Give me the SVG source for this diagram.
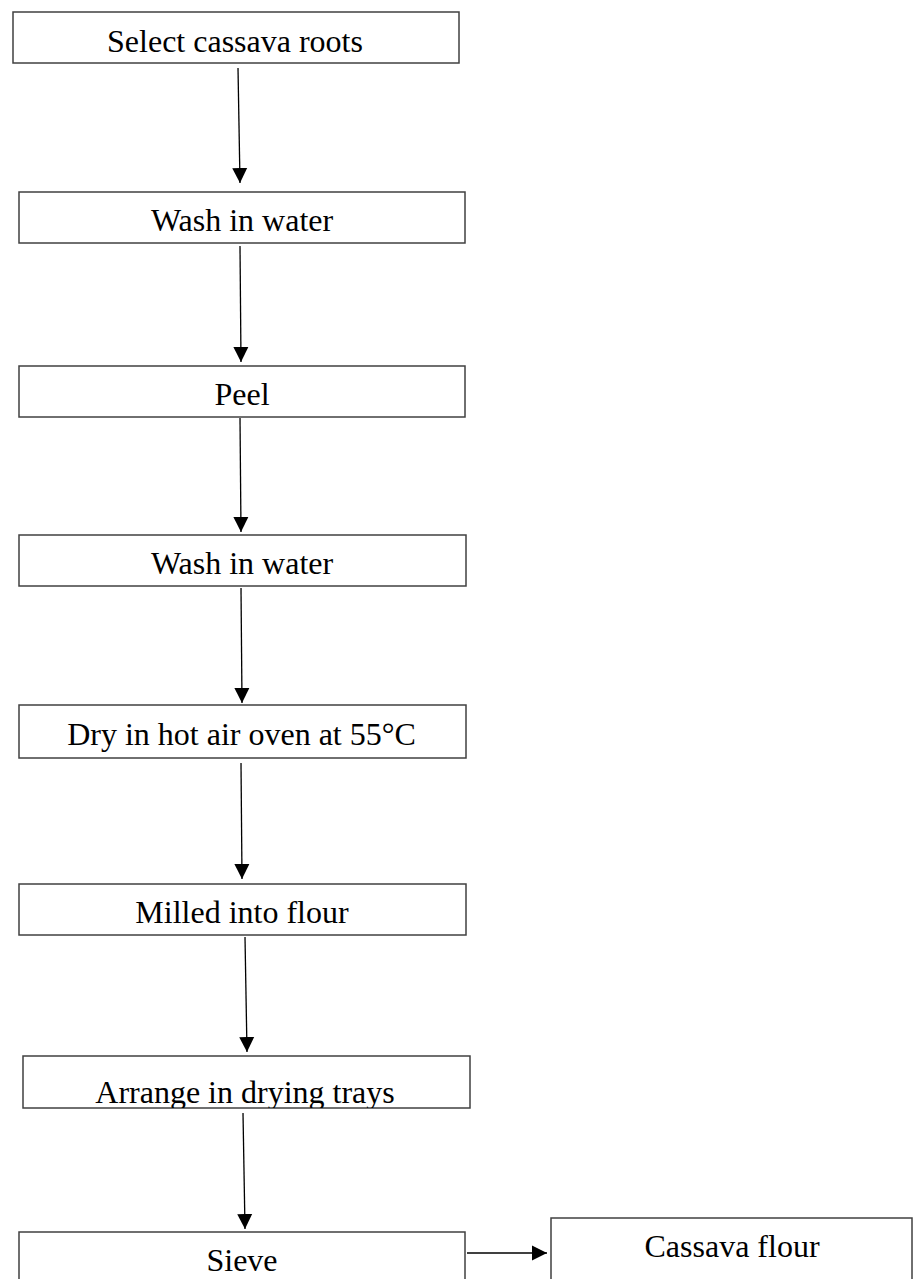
<svg xmlns="http://www.w3.org/2000/svg" width="914" height="1279" viewBox="0 0 914 1279">
<style>
.box{fill:#fff;stroke:#404040;stroke-width:1.5}
.lbl{font-family:"Liberation Serif","Times New Roman",serif;font-size:32px;fill:#000;text-anchor:middle}
.conn{stroke:#000;stroke-width:1.3;fill:none;marker-end:url(#ah)}
</style>
<defs>
<marker id="ah" markerUnits="userSpaceOnUse" markerWidth="16" markerHeight="16" viewBox="0 0 16 16" refX="15" refY="8" orient="auto">
<path d="M0,0.5 L15,8 L0,15.5 Z" fill="#000"/>
</marker>
<clipPath id="c1"><rect x="13" y="12" width="446" height="51"/></clipPath>
<clipPath id="c2"><rect x="19" y="192" width="446" height="51"/></clipPath>
<clipPath id="c3"><rect x="19" y="366" width="446" height="51"/></clipPath>
<clipPath id="c4"><rect x="19" y="535" width="447" height="51"/></clipPath>
<clipPath id="c5"><rect x="19" y="705" width="447" height="53"/></clipPath>
<clipPath id="c6"><rect x="19" y="884" width="447" height="51"/></clipPath>
<clipPath id="c7"><rect x="23" y="1056" width="447" height="52"/></clipPath>
<clipPath id="c8"><rect x="19" y="1232" width="446" height="60"/></clipPath>
<clipPath id="c9"><rect x="551" y="1218" width="361" height="70"/></clipPath>
</defs>
<g id="connectors">
<line class="conn" x1="238" y1="68" x2="240" y2="183"/>
<line class="conn" x1="240" y1="246" x2="241" y2="362"/>
<line class="conn" x1="240" y1="418" x2="241" y2="532"/>
<line class="conn" x1="241" y1="588" x2="242" y2="703"/>
<line class="conn" x1="241" y1="763" x2="242" y2="879"/>
<line class="conn" x1="245" y1="937" x2="247" y2="1052"/>
<line class="conn" x1="243" y1="1113" x2="245" y2="1229"/>
<line class="conn" x1="467" y1="1253" x2="547" y2="1253"/>
</g>
<g id="n1"><rect class="box" x="13" y="12" width="446" height="51"/><text class="lbl" x="235" y="52" clip-path="url(#c1)">Select cassava roots</text></g>
<g id="n2"><rect class="box" x="19" y="192" width="446" height="51"/><text class="lbl" x="242" y="231" clip-path="url(#c2)">Wash in water</text></g>
<g id="n3"><rect class="box" x="19" y="366" width="446" height="51"/><text class="lbl" x="242" y="405" clip-path="url(#c3)">Peel</text></g>
<g id="n4"><rect class="box" x="19" y="535" width="447" height="51"/><text class="lbl" x="242" y="574" clip-path="url(#c4)">Wash in water</text></g>
<g id="n5"><rect class="box" x="19" y="705" width="447" height="53"/><text class="lbl" x="241.5" y="745" clip-path="url(#c5)">Dry in hot air oven at 55°C</text></g>
<g id="n6"><rect class="box" x="19" y="884" width="447" height="51"/><text class="lbl" x="242" y="923" clip-path="url(#c6)">Milled into flour</text></g>
<g id="n7"><rect class="box" x="23" y="1056" width="447" height="52"/><text class="lbl" x="245" y="1103" clip-path="url(#c7)">Arrange in drying trays</text></g>
<g id="n8"><rect class="box" x="19" y="1232" width="446" height="60"/><text class="lbl" x="242" y="1271" clip-path="url(#c8)">Sieve</text></g>
<g id="n9"><rect class="box" x="551" y="1218" width="361" height="70"/><text class="lbl" x="732" y="1257" clip-path="url(#c9)">Cassava flour</text></g>
</svg>
